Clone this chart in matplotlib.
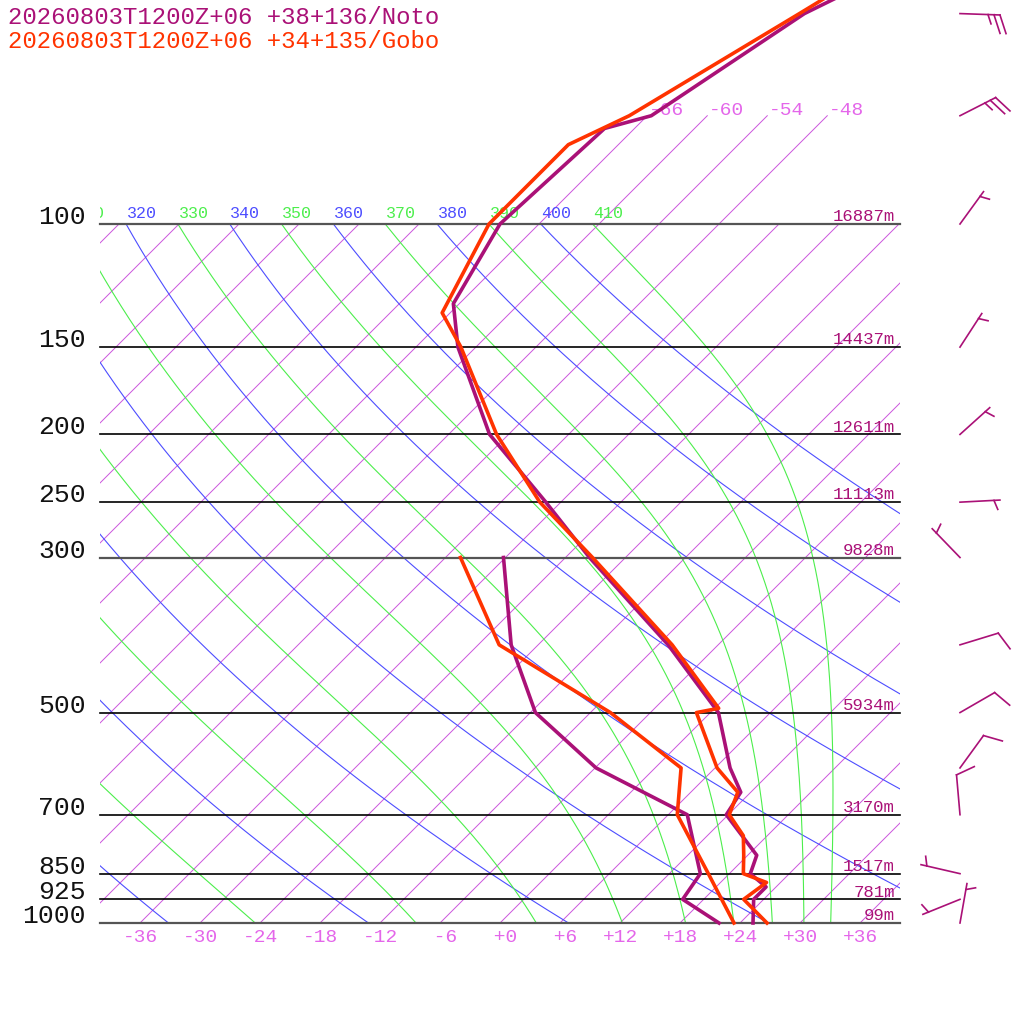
import numpy as np
import matplotlib
matplotlib.use('Agg')
import matplotlib.pyplot as plt
from matplotlib.patches import Rectangle

plt.rcParams['font.family'] = ['Liberation Mono', 'DejaVu Sans Mono']

noto_t_p = [1000, 925, 888, 850, 800, 700, 650, 600, 500, 400, 300, 250, 200, 150, 130, 100, 73, 70, 50, 30]
noto_t = [25.3, 23.0, 23.0, 20.1, 18.9, 11.8, 11.0, 7.5, 0.8, -11.0, -27.6, -37.5, -49.9, -61.8, -66.6, -69.9, -69.0, -65.6, -60.5, -44.5]
noto_td_p = [1000, 925, 850, 700, 600, 500, 400, 300]
noto_td = [21.9, 15.9, 15.1, 7.9, -5.9, -17.5, -26.7, -36.2]

gobo_t_p = [1000, 925, 875, 850, 800, 750, 700, 650, 600, 500, 493, 400, 300, 250, 200, 150, 134, 100, 77, 70, 50, 30]
gobo_t = [26.7, 22.0, 22.6, 19.4, 17.6, 15.6, 12.1, 10.7, 6.2, -1.4, 0.4, -10.6, -27.3, -38.1, -49.2, -61.5, -66.8, -71.0, -71.0, -67.8, -61.0, -51.0]
gobo_td_p = [1000, 925, 850, 700, 600, 500, 400, 300]
gobo_td = [23.4, 19.8, 15.9, 6.9, 2.6, -10.0, -27.9, -40.5]

# winds (Noto), direction in degrees, speed in kt
wind_p = [1000, 925, 850, 700, 600, 500, 400, 300, 250, 200, 150, 100, 70, 50]
wind_dir = [10, 248, 283, 355, 36, 60, 73, 316, 87, 48, 33, 36, 63, 92]
wind_spd = [5, 5, 5, 10, 10, 10, 10, 5, 5, 5, 5, 5, 25, 25]

isobars = [100, 150, 200, 250, 300, 500, 700, 850, 925, 1000]
heights = [16887, 14437, 12611, 11113, 9828, 5934, 3170, 1517, 781, 99]

isotherms = np.arange(-108, 37, 6)
top_isotherms = [-66, -60, -54, -48]
bottom_labels = np.arange(-36, 37, 6)
dry_thetas = np.arange(240, 401, 20)
moist_thetas = np.arange(250, 411, 20)

title_noto = '20260803T1200Z+06 +38+136/Noto'
title_gobo = '20260803T1200Z+06 +34+135/Gobo'

C_NOTO = '#aa1177'
C_GOBO = '#ff3300'
C_ISO = '#cc55dd'
C_ISO_LBL = '#e466ea'
C_DRY = '#4d4dff'
C_MOIST = '#4cee4c'

SKEW = 69.9
RD, CP, LV, EPS = 287.04, 1005.7, 2.501e6, 0.622
KAPPA = RD / CP


def skew_x(t, p):
    return np.asarray(t) + SKEW * np.log10(1000.0 / np.asarray(p, dtype=float))


def sat_mix(t_k, p):
    es = 6.112 * np.exp(17.67 * (t_k - 273.15) / (t_k - 29.65))
    return EPS * es / (p - es)


def moist_rate(p, t_k):
    rs = sat_mix(t_k, p)
    return (RD * t_k + LV * rs) / (p * (CP + LV ** 2 * rs * EPS / (RD * t_k ** 2)))


def moist_adiabat(theta, pres):
    t = theta * (pres[0] / 1000.0) ** KAPPA
    out = [t]
    for p0, p1 in zip(pres[:-1], pres[1:]):
        h = p1 - p0
        k1 = moist_rate(p0, t)
        k2 = moist_rate(p0 + h / 2, t + h * k1 / 2)
        k3 = moist_rate(p0 + h / 2, t + h * k2 / 2)
        k4 = moist_rate(p1, t + h * k3)
        t = t + h * (k1 + 2 * k2 + 2 * k3 + k4) / 6
        out.append(t)
    return np.array(out) - 273.15


fig = plt.figure(figsize=(10.24, 10.24), dpi=100)
ax = fig.add_axes([0, 0, 1, 1])
ax.set_yscale('log')
ax.set_xlim(-50, 52.4)
ax.set_ylim(1000 * 10 ** (101 / 699), 1000 * 10 ** (-923 / 699))
ax.axis('off')

box = Rectangle((-40, 100), 80, 900, transform=ax.transData)
lbl_box = Rectangle((-40, 50), 80, 950, transform=ax.transData)

pres = np.linspace(100, 1000, 901)

# isotherms
for t in isotherms:
    ln, = ax.plot(skew_x(t, pres), pres, color=C_ISO, lw=0.7, zorder=1)
    ln.set_clip_path(box)
pt = np.linspace(70, 100, 50)
for t in top_isotherms:
    ax.plot(skew_x(t, pt), pt, color=C_ISO, lw=0.7, zorder=1)
    ax.annotate('%d' % t, (skew_x(t, 70), 70), xytext=(1, 3.5),
                textcoords='offset points', ha='left', va='center', fontsize=14, color=C_ISO_LBL)
for t in bottom_labels:
    ax.text(t, 1049, ('%+d' % t).rjust(3), ha='center', va='center', fontsize=14, color=C_ISO_LBL)

# dry adiabats
for th in dry_thetas:
    tt = th * (pres / 1000.0) ** KAPPA - 273.15
    ln, = ax.plot(skew_x(tt, pres), pres, color=C_DRY, lw=0.8, zorder=1)
    ln.set_clip_path(box)
    txt = ax.annotate(str(th), (skew_x(tt[0], 100), 100), xytext=(0.5, 4), textcoords='offset points',
                      ha='left', va='baseline', fontsize=12, color=C_DRY)
    txt.set_clip_path(lbl_box)

# moist adiabats
for th in moist_thetas:
    tt = moist_adiabat(th, pres)
    ln, = ax.plot(skew_x(tt, pres), pres, color=C_MOIST, lw=0.8, zorder=1)
    ln.set_clip_path(box)
    txt = ax.annotate(str(th), (skew_x(tt[0], 100), 100), xytext=(0.5, 4), textcoords='offset points',
                      ha='left', va='baseline', fontsize=12, color=C_MOIST)
    txt.set_clip_path(lbl_box)

# isobars
for p, h in zip(isobars, heights):
    grey = p in (100, 300, 1000)
    ax.plot([-40, 40], [p, p], color='#555555' if grey else 'black', lw=1.6 if grey else 1.2, zorder=3)
    ax.text(-41.4, p, str(p), ha='right', va='baseline', fontsize=19, color='#111111')
    ax.annotate('%dm' % h, (39.5, p), xytext=(0, 2), textcoords='offset points',
                ha='right', va='baseline', fontsize=12.5, color=C_NOTO, zorder=4)

# profiles
ax.plot(skew_x(noto_t, noto_t_p), noto_t_p, color=C_NOTO, lw=2.6, zorder=5)
ax.plot(skew_x(noto_td, noto_td_p), noto_td_p, color=C_NOTO, lw=2.6, zorder=5)
ax.plot(skew_x(gobo_t, gobo_t_p), gobo_t_p, color=C_GOBO, lw=2.6, zorder=6)
ax.plot(skew_x(gobo_td, gobo_td_p), gobo_td_p, color=C_GOBO, lw=2.6, zorder=6)


# wind barbs, drawn in pixel space from direction / speed
def draw_barb(p, wdir, spd):
    base = ax.transData.transform((46.0, p))
    b = np.radians(wdir)
    u = np.array([np.sin(b), np.cos(b)])
    tip = base + 40 * u
    segs = [[base, tip]]
    ang = np.arctan2(u[1], u[0]) - np.radians(70)
    f = np.array([np.cos(ang), np.sin(ang)])
    n_full = int(spd // 10)
    pos = 0
    for i in range(n_full):
        s = tip - pos * u
        segs.append([s, s + 19.6 * f])
        pos += 6
    if spd % 10 >= 5:
        if n_full == 0:
            pos = 6
        s = tip - pos * u
        segs.append([s, s + 9.8 * f])
    inv = ax.transData.inverted()
    for seg in segs:
        d = inv.transform(np.array(seg))
        ax.plot(d[:, 0], d[:, 1], color=C_NOTO, lw=1.2, clip_on=False, zorder=5)


for p, d, s in zip(wind_p, wind_dir, wind_spd):
    draw_barb(p, d, s)

fig.text(8 / 1024, 1 - 17 / 1024, title_noto, color=C_NOTO, fontsize=17.3, ha='left', va='center')
fig.text(8 / 1024, 1 - 41 / 1024, title_gobo, color=C_GOBO, fontsize=17.3, ha='left', va='center')

fig.savefig('out.png', dpi=100, facecolor='white')
